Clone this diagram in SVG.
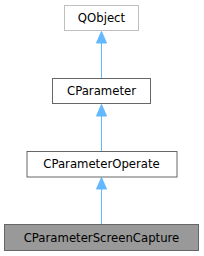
<svg xmlns="http://www.w3.org/2000/svg" width="204" height="256" viewBox="0 0 204 256">
<style>
.n rect{fill:#fff;stroke:#666;stroke-width:1}
.n text{font-family:"DejaVu Sans",sans-serif;font-size:11.7px;text-anchor:middle;fill:#000}
.e path{fill:none;stroke:#63b8ff;stroke-width:1}
.e polygon{fill:#63b8ff;stroke:#63b8ff;stroke-width:1}
</style>
<rect width="204" height="256" fill="#fff"/>
<g class="e">
<path d="M101.5,43V78.5"/><polygon points="101.5,31.5 106.5,43 96.5,43"/>
<path d="M101.5,116V151.5"/><polygon points="101.5,104.5 106.5,116 96.5,116"/>
<path d="M101.5,189V224.5"/><polygon points="101.5,177.5 106.5,189 96.5,189"/>
</g>
<g id="QObject" class="n"><rect x="64.5" y="5.5" width="74" height="25" style="stroke:#bfbfbf"/><text x="101.5" y="22">QObject</text></g>
<g id="CParameter" class="n"><rect x="52.5" y="78.5" width="98" height="25"/><text x="101.5" y="95">CParameter</text></g>
<g id="CParameterOperate" class="n"><rect x="27" y="151.5" width="150" height="25.5"/><text x="101.5" y="168">CParameterOperate</text></g>
<g id="CParameterScreenCapture" class="n"><rect x="4.5" y="224.5" width="194" height="26" style="fill:#999"/><text x="101.5" y="241.5">CParameterScreenCapture</text></g>
</svg>
